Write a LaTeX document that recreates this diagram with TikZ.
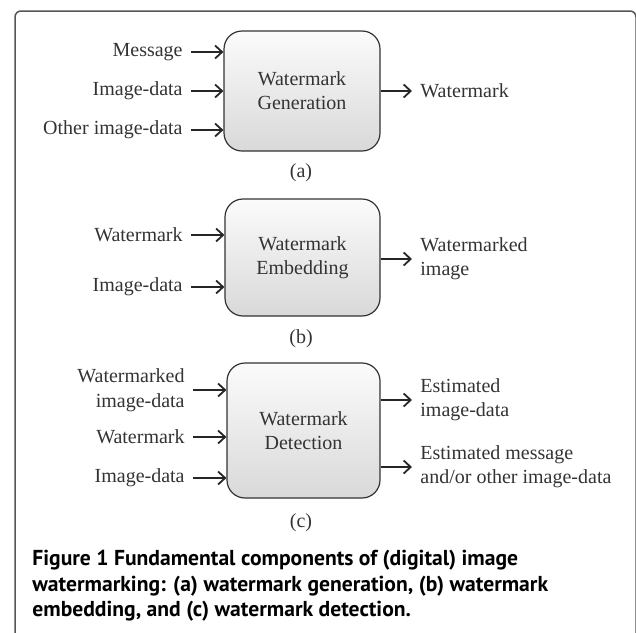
\documentclass[tikz,border=0pt]{standalone}
\usepackage{fontspec}
\setmainfont{Liberation Serif}
\newfontfamily\capfont{PT Sans}
\usetikzlibrary{arrows.meta,positioning}
\definecolor{inkgray}{HTML}{333333}
\definecolor{framegray}{HTML}{555555}
\tikzset{
	block/.style={draw=inkgray, line width=0.6pt, rounded corners=9pt, top color=gray!3, bottom color=gray!30, align=center, text=inkgray, font=\fontsize{10}{12}\selectfont},
	inlbl/.style={anchor=east, inner sep=4pt, align=right, text=inkgray, font=\fontsize{10}{12.5}\selectfont},
	outlbl/.style={anchor=west, inner sep=4pt, align=left, text=inkgray, font=\fontsize{10}{12}\selectfont},
	sublbl/.style={text=inkgray, font=\fontsize{10}{12}\selectfont},
	flow/.style={draw=black!85, line width=0.9pt, -{Straight Barb[length=3.5pt,width=6.5pt]}}
}
\begin{document}
\begin{tikzpicture}[x=0.5pt, y=-0.5pt]
			\useasboundingbox (0,0) rectangle (636,632);
			\draw[framegray, line width=0.75pt, rounded corners=3pt] (15,650) -- (15,11) -- (636,11) -- (636,650);

			\node[block, minimum width=78pt, minimum height=60pt] (gen) at (302,91) {Watermark\\Generation};
			\node[inlbl] (msg) at (191,52) {Message};
			\node[inlbl] (imga) at (191,91) {Image-data};
			\node[inlbl] (otha) at (191,130) {Other image-data};
			\node[outlbl] (wma) at (412,91) {Watermark};
			\node[sublbl] (suba) at (301,173) {(a)};

			\node[block, minimum width=77.5pt, minimum height=58.5pt] (emb) at (302.5,257.5) {Watermark\\Embedding};
			\node[inlbl] (wmb) at (191,235) {Watermark};
			\node[inlbl] (imgb) at (191,287) {Image-data};
			\node[outlbl] (wmib) at (412,259) {Watermarked\\image};
			\node[sublbl] (subb) at (301,339) {(b)};

			\node[block, minimum width=76.5pt, minimum height=67.5pt] (det) at (303.5,430.5) {Watermark\\Detection};
			\node[inlbl] (wmic) at (193,390) {Watermarked\\image-data};
			\node[inlbl] (wmc) at (193,437) {Watermark};
			\node[inlbl] (imgc) at (193,478) {Image-data};
			\node[outlbl] (estc) at (412,400) {Estimated\\image-data};
			\node[outlbl] (msgc) at (412,467) {Estimated message\\and/or other image-data};
			\node[sublbl] (subc) at (301,523) {(c)};

			\node[anchor=north west, inner sep=0pt, align=left, font=\capfont\bfseries\fontsize{10.8}{12.75}\selectfont] (cap) at (32,550) {Figure 1 Fundamental components of (digital) image\\watermarking: (a) watermark generation, (b) watermark\\embedding, and (c) watermark detection.};

			\draw[flow] (msg.east) -- (msg.east -| gen.west);
			\draw[flow] (imga.east) -- (imga.east -| gen.west);
			\draw[flow] (otha.east) -- (otha.east -| gen.west);
			\draw[flow] (gen.east) -- (wma.west);

			\draw[flow] (wmb.east) -- (wmb.east -| emb.west);
			\draw[flow] (imgb.east) -- (imgb.east -| emb.west);
			\draw[flow] (wmib.west -| emb.east) -- (wmib.west);

			\draw[flow] (wmic.east) -- (wmic.east -| det.west);
			\draw[flow] (wmc.east) -- (wmc.east -| det.west);
			\draw[flow] (imgc.east) -- (imgc.east -| det.west);
			\draw[flow] (estc.west -| det.east) -- (estc.west);
			\draw[flow] (msgc.west -| det.east) -- (msgc.west);
		\end{tikzpicture}
\end{document}
